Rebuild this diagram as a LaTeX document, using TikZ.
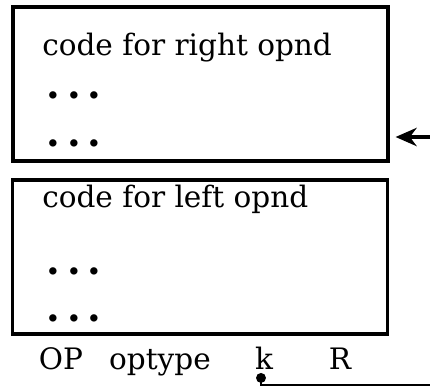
\documentclass[tikz,border=0pt]{standalone}
\usepackage{fontspec}
\setmainfont{DejaVu Serif}
\usetikzlibrary{arrows.meta}
\tikzset{
  codebox/.style={rectangle,draw,line width=2.2pt,minimum width=375*0.25mm,minimum height=154*0.25mm,inner sep=0pt},
  codeline/.style={anchor=base west,inner sep=0pt,font=\fontsize{21}{25}\selectfont},
  dotline/.style={anchor=base west,inner sep=0pt,font=\fontsize{28}{32}\selectfont\bfseries},
  fieldlabel/.style={anchor=base,inner sep=0pt,font=\fontsize{21}{25}\selectfont},
}
\newcommand{\threedots}{.\hskip0.18em.\hskip0.18em.}
\begin{document}
\begin{tikzpicture}[x=0.025cm,y=-0.025cm]
    \useasboundingbox (0,0) rectangle (430,389) ;
    \node[codebox] (right) at (200.5,84) {} ;
    \node[codebox] (left) at (200,257) {} ;

    \node[codeline] (r_title) at (42,55) {code for right opnd} ;
    \node[dotline] (r_dots1) at (46,98) {\threedots} ;
    \node[dotline] (r_dots2) at (46,146) {\threedots} ;

    \node[codeline] (l_title) at (42,207) {code for left opnd} ;
    \node[dotline] (l_dots1) at (46,274) {\threedots} ;
    \node[dotline] (l_dots2) at (46,321) {\threedots} ;

    \node[fieldlabel] (op) at (61,369) {OP} ;
    \node[fieldlabel] (optype) at (160,369) {optype} ;
    \node[fieldlabel] (k) at (264,369) {k} ;
    \node[fieldlabel] (r) at (340,369) {R} ;

    \coordinate (r_in) at (430,137) ;
    \coordinate (k_out) at (430,385) ;

    \draw[-{Stealth[length=15pt,width=13pt]}, line width=2.4pt, shorten >=6*0.25mm] (r_in) -- (right.east |- r_in) ;
    \draw[{Circle[length=7pt]}-, line width=0.9pt] (k.base) ++(-3,4) |- (k_out) ;
\end{tikzpicture}
\end{document}
